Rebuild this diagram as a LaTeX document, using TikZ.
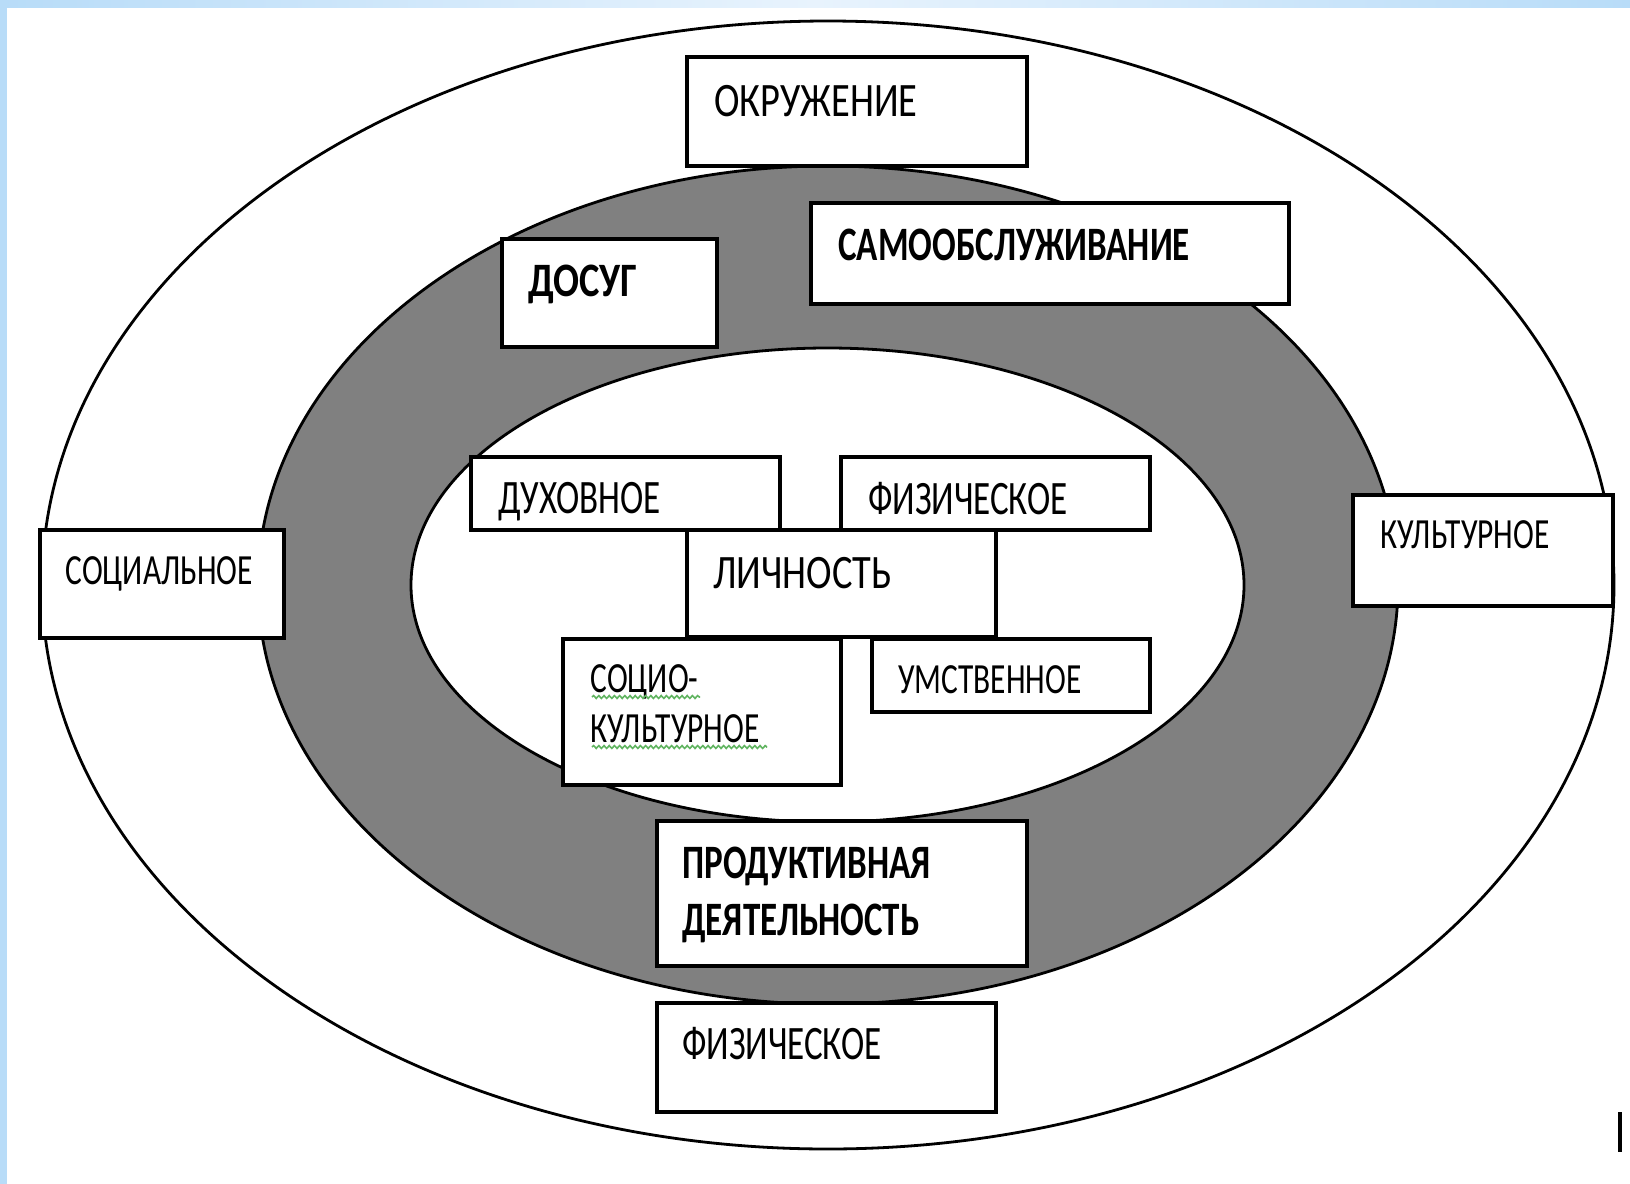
\documentclass[tikz,border=0pt]{standalone}
\usepackage{fontspec}
\setmainfont{Carlito}[FakeStretch=0.8]
\newfontfamily\narrowfont{Carlito}[FakeStretch=0.73]
\usetikzlibrary{decorations.pathmorphing}
\definecolor{ringgray}{RGB}{128,128,128}
\definecolor{edgeblue}{RGB}{184,220,248}
\definecolor{paleblue}{RGB}{232,243,253}
\definecolor{spellgreen}{RGB}{96,180,96}

\begin{document}
\begin{tikzpicture}[x=0.5pt,y=0.5pt,yscale=-1,
  wbox/.style={draw=black,fill=white,line width=1.7pt},
  ring/.style={draw=black,line width=1.4pt},
  lbl/.style={anchor=base west,inner sep=0pt,align=left,font=\fontsize{24}{28.5}\selectfont},
  lblnar/.style={lbl,font=\narrowfont\fontsize{24}{28.5}\selectfont},
  lblsm/.style={lbl,font=\narrowfont\fontsize{21.5}{25}\selectfont},
  lblbf/.style={lbl,font=\fontsize{24}{28.5}\selectfont\bfseries},
  lblbfnar/.style={lbl,font=\narrowfont\fontsize{24}{28.5}\selectfont\bfseries},
  squiggle/.style={draw=spellgreen,line width=0.8pt,decorate,decoration={snake,amplitude=0.7pt,segment length=2.6pt}}]
%diagram is 1630 x 1184
\useasboundingbox (0,0) rectangle (1630,1184);

%Page edge
\fill [left color=edgeblue,right color=edgeblue,middle color=paleblue] (0,0) rectangle (1630,7);
\fill [edgeblue] (0,0) rectangle (7,1184);

%Ellipses
\draw [ring,fill=white] (828,585) ellipse [x radius=786,y radius=564];
\draw [ring,fill=ringgray] (828,585) ellipse [x radius=570,y radius=419];
\draw [ring,fill=white] (827.5,585) ellipse [x radius=416.5,y radius=237];

%Boxes
\draw [wbox] (687,57) rectangle (1027,166);
\draw [wbox] (811,203) rectangle (1289,304);
\draw [wbox] (502,239) rectangle (717,347);
\draw [wbox] (687,530) rectangle (996,637);
\draw [wbox] (471,457) rectangle (780,530);
\draw [wbox] (841,457) rectangle (1150,530);
\draw [wbox] (563,639) rectangle (841,785);
\draw [wbox] (872,639) rectangle (1150,712);
\draw [wbox] (40,530) rectangle (284,638);
\draw [wbox] (1353,495) rectangle (1613,606);
\draw [wbox] (657,821) rectangle (1027,966);
\draw [wbox] (657,1003) rectangle (996,1112);

% Text Node
\node (okr) at (714,116) [lbl] {ОКРУЖЕНИЕ};
% Text Node
\node (samo) at (838,260) [lblbfnar] {САМООБСЛУЖИВАНИЕ};
% Text Node
\node (dosug) at (528,296) [lblbf] {ДОСУГ};
% Text Node
\node (duh) at (498,513) [lblnar] {ДУХОВНОЕ};
% Text Node
\node (fizin) at (868,514) [lblnar] {ФИЗИЧЕСКОЕ};
% Text Node
\node (lich) at (713,588) [lbl] {ЛИЧНОСТЬ};
% Text Node
\node (socio) at (590,664) [lblsm,anchor=north west] {СОЦИО-\\КУЛЬТУРНОЕ};
% Text Node
\node (umst) at (898,693) [lblsm] {УМСТВЕННОЕ};
% Text Node
\node (soc) at (65,584) [lblsm] {СОЦИАЛЬНОЕ};
% Text Node
\node (kult) at (1380,548) [lblsm] {КУЛЬТУРНОЕ};
% Text Node
\node (prod) at (682,847) [lblbfnar,anchor=north west] {ПРОДУКТИВНАЯ\\ДЕЯТЕЛЬНОСТЬ};
% Text Node
\node (fizout) at (682,1059) [lblnar] {ФИЗИЧЕСКОЕ};

%spelling marks
\draw [squiggle] (592,697) -- (700,697);
\draw [squiggle] (592,747) -- (767,747);

%cursor
\draw [line width=2pt] (1620,1112) -- (1620,1152);

\end{tikzpicture}
\end{document}
